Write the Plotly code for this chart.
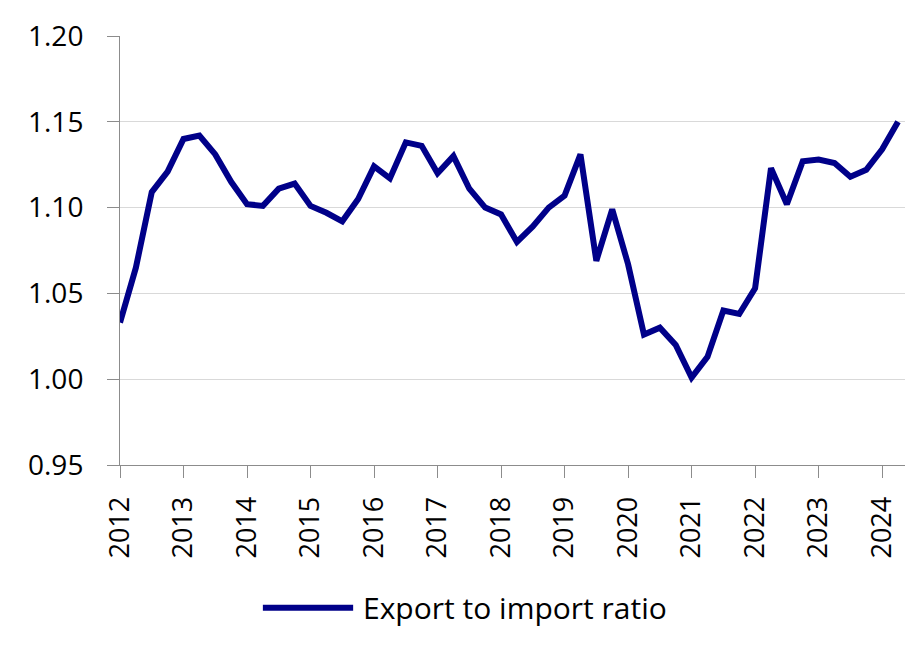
import plotly.graph_objects as go

years = list(range(2012, 2025))
quarter_labels = [f"{y}Q{q}" for y in range(2012, 2025) for q in range(1, 5)][:50]
ratio = [1.033, 1.065, 1.109, 1.121,
         1.140, 1.142, 1.131, 1.115,
         1.102, 1.101, 1.111, 1.114,
         1.101, 1.097, 1.092, 1.105,
         1.124, 1.117, 1.138, 1.136,
         1.120, 1.130, 1.111, 1.100,
         1.096, 1.080, 1.089, 1.100,
         1.107, 1.131, 1.069, 1.099,
         1.067, 1.026, 1.030, 1.020,
         1.001, 1.013, 1.040, 1.038,
         1.053, 1.123, 1.102, 1.127,
         1.128, 1.126, 1.118, 1.122,
         1.134, 1.150]
y_ticks = [0.95, 1.00, 1.05, 1.10, 1.15, 1.20]
series_name = "Export to import ratio"
line_color = "#000089"

x_vals = [int(s[:4]) + (int(s[-1]) - 1) * 0.25 for s in quarter_labels]

FONT = "Open Sans"
fig = go.Figure()
fig.add_trace(go.Scatter(
    x=x_vals, y=ratio, mode="lines", name=series_name,
    line=dict(color=line_color, width=6), showlegend=False,
))

# legend key (drawn manually so the sample line is long, as in the reference)
leg_y = -0.333
fig.add_shape(type="line", xref="paper", yref="paper",
              x0=0.182, x1=0.297, y0=leg_y, y1=leg_y,
              line=dict(color=line_color, width=6))
fig.add_annotation(xref="paper", yref="paper", x=0.307, y=leg_y,
                   xanchor="left", yanchor="middle", showarrow=False,
                   text=series_name, font=dict(size=30, color="#000000"))

# the page body adds an 8px offset, so the figure is 8px smaller
fig.update_layout(
    width=906, height=641,
    margin=dict(l=112, r=9, t=28, b=184, autoexpand=False),
    paper_bgcolor="white", plot_bgcolor="white",
    font=dict(family=FONT, size=24, color="#000000"),
    xaxis=dict(range=[2012, 2024.36], tickvals=years, ticktext=[str(y) for y in years],
               tickangle=-90, showgrid=False, zeroline=False,
               showline=True, linecolor="#8c8c8c", linewidth=1,
               ticks="outside", ticklen=12, tickcolor="#8c8c8c",
               ticklabelstandoff=8, automargin=False,
               tickfont=dict(size=27)),
    yaxis=dict(range=[0.95, 1.20], tickvals=y_ticks, tickformat=".2f",
               showgrid=True, gridcolor="#d9d9d9", gridwidth=1, zeroline=False,
               showline=True, linecolor="#8c8c8c", linewidth=1,
               ticks="outside", ticklen=12, tickcolor="#8c8c8c",
               ticklabelstandoff=18, automargin=False,
               tickfont=dict(size=28)),
)
fig.write_html("out.html")
